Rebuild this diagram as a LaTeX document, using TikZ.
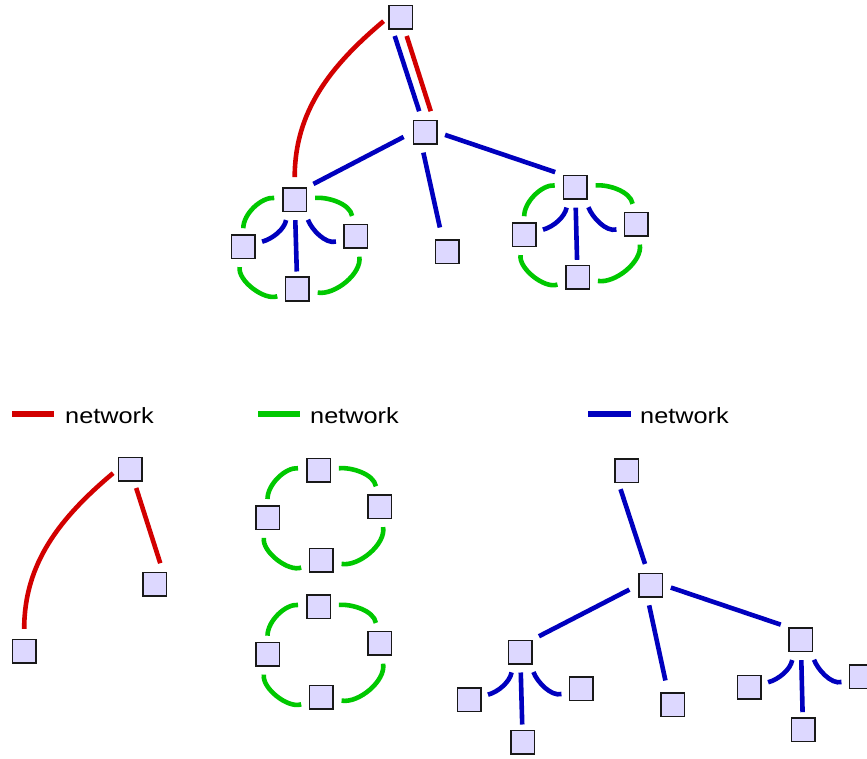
\documentclass[tikz,border=0pt]{standalone}
\usepackage{fontspec}

\definecolor{hostfill}{RGB}{221,216,255}
\definecolor{linkred}{RGB}{210,0,0}
\definecolor{linkgreen}{RGB}{0,200,0}
\definecolor{linkblue}{RGB}{0,0,190}
\newfontfamily\legendfont[FakeStretch=1.15]{Liberation Sans}

\begin{document}
\begin{tikzpicture}[
    x=1pt, y=1pt,
    host/.style={rectangle, draw=black!90, fill=hostfill, line width=1.5pt, minimum size=23.5pt, inner sep=0pt},
    link/.style={line width=4.6pt, shorten <=8pt, shorten >=8pt},
    redlink/.style={link, draw=linkred},
    greenlink/.style={link, draw=linkgreen},
    bluelink/.style={link, draw=linkblue},
    key/.style={line width=5.5pt},
    legend/.style={font=\legendfont\fontsize{22}{26}\selectfont, anchor=base west, inner sep=0pt}
]

% Page and background
\useasboundingbox (0,0) rectangle (867,-759);
\fill[white] (0,0) rectangle (867,-759);

% Combined network (top)
\node[host] (root) at (400.7,-17.3) {};
\node[host] (core) at (425,-132.3) {};
\node[host] (left_hub) at (294.7,-199.7) {};
\node[host] (left_a) at (243.3,-246.7) {};
\node[host] (left_b) at (297.3,-289) {};
\node[host] (left_c) at (355.7,-236.3) {};
\node[host] (mid_leaf) at (447,-251.7) {};
\node[host] (right_hub) at (575.2,-187.2) {};
\node[host] (right_a) at (524.2,-234.7) {};
\node[host] (right_b) at (577.5,-277.3) {};
\node[host] (right_c) at (636.2,-224.2) {};

% red links
\draw[redlink, shorten <=6pt, shorten >=10pt] (root.west) to[out=220, in=90] (left_hub);
\draw[redlink, shorten <=6.5pt, shorten >=9pt] ([xshift=4pt]root.south) -- ([xshift=8.5pt]core.north);

% blue links
\draw[bluelink, shorten <=6.5pt, shorten >=9pt] ([xshift=-8pt]root.south) -- ([xshift=-3pt]core.north);
\draw[bluelink, shorten <=10pt, shorten >=7pt] (core.west) -- (left_hub.north east);
\draw[bluelink, shorten >=12pt] (core.-105) -- (mid_leaf.110);
\draw[bluelink] (core.east) -- (right_hub.north west);
\draw[bluelink, shorten >=6.5pt] (left_hub.-120) to[out=-100, in=15] (left_a);
\draw[bluelink, shorten >=5pt] (left_hub) -- (left_b);
\draw[bluelink, shorten >=7.5pt] (left_hub.-50) to[out=-70, in=195] (left_c);
\draw[bluelink, shorten >=6.5pt] (right_hub.-120) to[out=-100, in=15] (right_a);
\draw[bluelink, shorten >=5pt] (right_hub) -- (right_b);
\draw[bluelink, shorten >=7.5pt] (right_hub.-50) to[out=-70, in=195] (right_c);

% green rings
\draw[greenlink, shorten >=6pt] (left_hub) to[out=175, in=90] (left_a);
\draw[greenlink] (left_hub) to[out=5, in=100] (left_c);
\draw[greenlink] (left_c) to[out=-80, in=-10] (left_b);
\draw[greenlink] (left_b) to[out=200, in=-100] (left_a);
\draw[greenlink, shorten >=6pt] (right_hub) to[out=175, in=90] (right_a);
\draw[greenlink] (right_hub) to[out=5, in=100] (right_c);
\draw[greenlink] (right_c) to[out=-80, in=-10] (right_b);
\draw[greenlink] (right_b) to[out=200, in=-100] (right_a);

% Legend
\coordinate (red_key_a) at (12,-414);
\coordinate (red_key_b) at (54,-414);
\draw[key, linkred] (red_key_a) -- (red_key_b);
\node[legend] (red_key) at (65,-423.3) {network};
\coordinate (green_key_a) at (258,-414);
\coordinate (green_key_b) at (300,-414);
\draw[key, linkgreen] (green_key_a) -- (green_key_b);
\node[legend] (green_key) at (310,-423.3) {network};
\coordinate (blue_key_a) at (588,-414);
\coordinate (blue_key_b) at (631,-414);
\draw[key, linkblue] (blue_key_a) -- (blue_key_b);
\node[legend] (blue_key) at (640,-423.3) {network};

% Red network
\node[host] (red_top) at (130.2,-469.3) {};
\node[host] (red_right) at (154.5,-584.3) {};
\node[host] (red_left) at (24.2,-651.3) {};
\draw[redlink, shorten <=6pt, shorten >=10pt] (red_top.west) to[out=220, in=90] (red_left);
\draw[redlink, shorten <=6.5pt, shorten >=9pt] ([xshift=4pt]red_top.south) -- ([xshift=8.5pt]red_right.north);

% Green networks
\node[host] (ring_top) at (318.5,-470) {};
\node[host] (ring_left) at (267.5,-517.5) {};
\node[host] (ring_right) at (379.5,-506.7) {};
\node[host] (ring_bottom) at (321.2,-560.3) {};
\draw[greenlink, shorten >=6pt] (ring_top) to[out=175, in=90] (ring_left);
\draw[greenlink] (ring_top) to[out=5, in=100] (ring_right);
\draw[greenlink] (ring_right) to[out=-80, in=-10] (ring_bottom);
\draw[greenlink] (ring_bottom) to[out=200, in=-100] (ring_left);

\node[host] (ring2_top) at (318.5,-606.7) {};
\node[host] (ring2_left) at (267.5,-654.2) {};
\node[host] (ring2_right) at (379.5,-643.3) {};
\node[host] (ring2_bottom) at (321.2,-697) {};
\draw[greenlink, shorten >=6pt] (ring2_top) to[out=175, in=90] (ring2_left);
\draw[greenlink] (ring2_top) to[out=5, in=100] (ring2_right);
\draw[greenlink] (ring2_right) to[out=-80, in=-10] (ring2_bottom);
\draw[greenlink] (ring2_bottom) to[out=200, in=-100] (ring2_left);

% Blue network
\node[host] (b_root) at (626.5,-470.5) {};
\node[host] (b_core) at (650.8,-585) {};
\node[host] (b_left_hub) at (520.2,-652) {};
\node[host] (b_left_a) at (469.2,-699.7) {};
\node[host] (b_left_b) at (522.7,-742) {};
\node[host] (b_left_c) at (581.2,-688.7) {};
\node[host] (b_mid_leaf) at (672.5,-704.7) {};
\node[host] (b_right_hub) at (800.8,-639.7) {};
\node[host] (b_right_a) at (749.3,-687.3) {};
\node[host] (b_right_b) at (803,-729.7) {};
\node[host] (b_right_c) at (861.2,-676.7) {};

\draw[bluelink, shorten <=6.5pt, shorten >=9pt] ([xshift=-8pt]b_root.south) -- ([xshift=-3pt]b_core.north);
\draw[bluelink, shorten <=10pt, shorten >=7pt] (b_core.west) -- (b_left_hub.north east);
\draw[bluelink, shorten >=12pt] (b_core.-105) -- (b_mid_leaf.110);
\draw[bluelink] (b_core.east) -- (b_right_hub.north west);
\draw[bluelink, shorten >=6.5pt] (b_left_hub.-120) to[out=-100, in=15] (b_left_a);
\draw[bluelink, shorten >=5pt] (b_left_hub) -- (b_left_b);
\draw[bluelink, shorten >=7.5pt] (b_left_hub.-50) to[out=-70, in=195] (b_left_c);
\draw[bluelink, shorten >=6.5pt] (b_right_hub.-120) to[out=-100, in=15] (b_right_a);
\draw[bluelink, shorten >=5pt] (b_right_hub) -- (b_right_b);
\draw[bluelink, shorten >=7.5pt] (b_right_hub.-50) to[out=-70, in=195] (b_right_c);

\end{tikzpicture}
\end{document}
